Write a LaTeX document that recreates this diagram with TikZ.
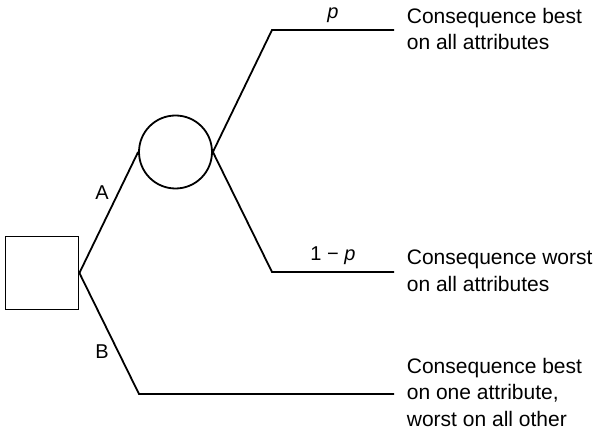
\documentclass[tikz,border=0pt]{standalone}
\usepackage{fontspec}
\setmainfont{Liberation Sans}
\begin{document}
\begin{tikzpicture}[x=1pt,y=-1pt,
  line width=1.8pt,
  txt/.style={font=\fontsize{21}{26.5}\selectfont, align=left, anchor=west, inner sep=0pt},
  lbl/.style={font=\fontsize{20}{24}\selectfont, inner sep=0pt},
  decision/.style={draw, rectangle, minimum width=73pt, minimum height=73pt, inner sep=0pt},
  chance/.style={draw, circle, minimum size=73pt, inner sep=0pt}]
\useasboundingbox (0,0) rectangle (595,430);
\node[decision] (dec) at (42,273) {};
\node[chance] (ch) at (175.5,152) {};
\coordinate (p1) at (272,30);
\coordinate (e1) at (394,30);
\coordinate (p2) at (272,272);
\coordinate (e2) at (394,272);
\coordinate (p3) at (139,394);
\coordinate (e3) at (394,394);
\draw (dec.east) -- (ch.west);
\draw (ch.east) -- (p1) -- (e1);
\draw (ch.east) -- (p2) -- (e2);
\draw (dec.east) -- (p3) -- (e3);
\node[lbl] (la) at (102,193) {A};
\node[lbl] (lb) at (102,352) {B};
\node[lbl] (lp) at (333,15) {\textit{p}};
\node[lbl] (lq) at (333,256) {1 − \textit{p}};
\node[txt] (t1) at (406,29) {Consequence best\\on all attributes};
\node[txt] (t2) at (406,271) {Consequence worst\\on all attributes};
\node[txt] (t3) at (406,392) {Consequence best\\on one attribute,\\worst on all other};
\end{tikzpicture}
\end{document}
